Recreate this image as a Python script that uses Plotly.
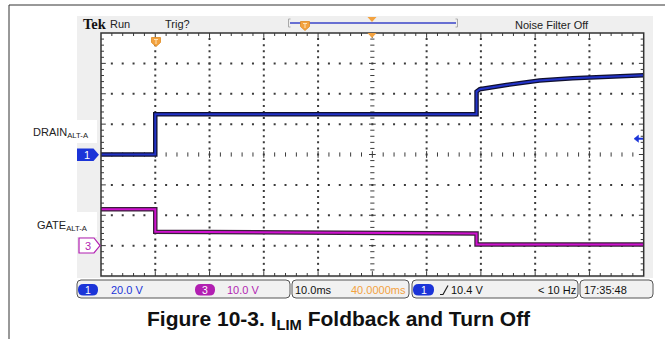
import plotly.graph_objects as go

W, H = 665, 339

# ---- acquisition data -------------------------------------------------------
# time in ms relative to trigger (10 ms/div, trigger 1 div from left edge)
T_MIN, T_MAX = -10.0, 90.0
# CH1 (drain): 20 V/div, ground at centre; CH3 (gate): 10 V/div, ground 3 div below centre
CH1_RANGE = [-80.0, 80.0]
CH3_RANGE = [-10.0, 70.0]

drain_t = [-10.0, 0.0, 0.0, 59.2, 59.2, 59.8, 64.7, 70.8, 76.9, 83.2, 90.0]
drain_v = [0.0, 0.0, 26.5, 26.5, 41.4, 43.0, 45.8, 48.7, 50.2, 51.3, 52.2]

gate_t = [-10.0, 0.0, 0.0, 30.0, 59.2, 59.2, 90.0]
gate_v = [12.0, 12.0, 4.6, 4.2, 4.0, 0.4, 0.4]

trig_level_v = 10.4

ch1_scale = "20.0 V"
ch3_scale = "10.0 V"
time_scale = "10.0ms"
delay_text = "40.0000ms"
trig_text = "10.4 V"
freq_text = "< 10 Hz"
clock_text = "17:35:48"

# ---- geometry helpers (pixel -> paper) --------------------------------------
PX0, PX1, PY0, PY1 = 101.0, 643.7, 33.0, 276.0


def X(px):
    return px / W


def Y(py):
    return 1 - py / H


def rrect(x0, y0, x1, y1, r):
    return (f"M {X(x0 + r)},{Y(y0)} L {X(x1 - r)},{Y(y0)} Q {X(x1)},{Y(y0)} {X(x1)},{Y(y0 + r)} "
            f"L {X(x1)},{Y(y1 - r)} Q {X(x1)},{Y(y1)} {X(x1 - r)},{Y(y1)} "
            f"L {X(x0 + r)},{Y(y1)} Q {X(x0)},{Y(y1)} {X(x0)},{Y(y1 - r)} "
            f"L {X(x0)},{Y(y0 + r)} Q {X(x0)},{Y(y0)} {X(x0 + r)},{Y(y0)} Z")


def poly(pts):
    s = "M " + " L ".join(f"{X(a)},{Y(b)}" for a, b in pts)
    return s + " Z"


FONT = "Liberation Sans, Arial, sans-serif"
BLUE = "#1b34d8"
MAGENTA = "#b21fb2"
ORANGE = "#f3a23f"
GRID = "#3a3a3a"

# ---- graticule -----------------------------------------------------------
MS_PER_PX = (T_MAX - T_MIN) / (PX1 - PX0)
V_PER_PX = (CH1_RANGE[1] - CH1_RANGE[0]) / (PY1 - PY0)
DIV_T, MIN_T = 10.0, 2.0
DIV_V, MIN_V = 20.0, 4.0

dot_x, dot_y = [], []
for i in range(1, 10):
    if i == 5:
        continue
    for j in range(1, 40):
        dot_x.append(T_MIN + i * DIV_T)
        dot_y.append(CH1_RANGE[0] + j * MIN_V)
for k in range(1, 8):
    if k == 4:
        continue
    for m in range(1, 50):
        dot_x.append(T_MIN + m * MIN_T)
        dot_y.append(CH1_RANGE[0] + k * DIV_V)

tick_x, tick_y = [], []
tl_t = 3 * MS_PER_PX
tl_v = 3 * V_PER_PX
t_c = T_MIN + 5 * DIV_T
for j in range(1, 40):
    yv = CH1_RANGE[0] + j * MIN_V
    big = 1.6 if j % 5 == 0 else 1.0
    # centre column cross ticks
    tick_x += [t_c - 0.7 * tl_t * big, t_c + 0.7 * tl_t * big, None]
    tick_y += [yv, yv, None]
    # left / right border ticks
    tick_x += [T_MIN, T_MIN + tl_t * big, None, T_MAX, T_MAX - tl_t * big, None]
    tick_y += [yv, yv, None, yv, yv, None]
for m in range(1, 50):
    xv = T_MIN + m * MIN_T
    big = 1.6 if m % 5 == 0 else 1.0
    tick_x += [xv, xv, None]
    tick_y += [-0.7 * tl_v * big, 0.7 * tl_v * big, None]
    tick_x += [xv, xv, None, xv, xv, None]
    tick_y += [CH1_RANGE[1], CH1_RANGE[1] - tl_v * big, None,
               CH1_RANGE[0], CH1_RANGE[0] + tl_v * big, None]

fig = go.Figure()
fig.add_trace(go.Scatter(x=dot_x, y=dot_y, mode="markers", hoverinfo="skip",
                         marker=dict(symbol="square", size=2, color=GRID, line=dict(width=0))))
fig.add_trace(go.Scatter(x=tick_x, y=tick_y, mode="lines", hoverinfo="skip",
                         line=dict(color=GRID, width=1)))

# ---- waveforms --------------------------------------------------------------
fig.add_trace(go.Scatter(x=gate_t, y=gate_v, yaxis="y2", mode="lines", hoverinfo="skip",
                         line=dict(color="#3a1f3a", width=4.5)))
fig.add_trace(go.Scatter(x=gate_t, y=gate_v, yaxis="y2", mode="lines", hoverinfo="skip",
                         line=dict(color="#d010d0", width=2)))
fig.add_trace(go.Scatter(x=drain_t, y=drain_v, mode="lines", hoverinfo="skip",
                         line=dict(color="#101030", width=4.5)))
fig.add_trace(go.Scatter(x=drain_t, y=drain_v, mode="lines", hoverinfo="skip",
                         line=dict(color="#2233c8", width=2)))

# ---- shapes -------------------------------------------------------------------
shapes = []
# outer frame (left and top edges)
shapes.append(dict(type="path", xref="paper", yref="paper", layer="below",
                   path=f"M {X(9)},{Y(339)} L {X(9)},{Y(5)} L {X(665)},{Y(5)}",
                   line=dict(color="#333", width=1)))
# instrument screen panel
shapes.append(dict(type="rect", xref="paper", yref="paper", layer="below",
                   x0=X(77), x1=X(653), y0=Y(278), y1=Y(16),
                   fillcolor="#efefef", line=dict(width=0)))
# white backing behind channel labels
for (a, b) in [(120, 143), (212, 237)]:
    shapes.append(dict(type="rect", xref="paper", yref="paper", layer="below",
                       x0=X(30), x1=X(97), y0=Y(b), y1=Y(a),
                       fillcolor="white", line=dict(width=0)))
# graticule area
shapes.append(dict(type="rect", xref="paper", yref="paper", layer="below",
                   x0=X(PX0), x1=X(PX1), y0=Y(PY1), y1=Y(PY0),
                   fillcolor="white", line=dict(width=0)))
shapes.append(dict(type="rect", xref="paper", yref="paper", layer="above",
                   x0=X(PX0), x1=X(PX1), y0=Y(PY1), y1=Y(PY0),
                   line=dict(color="#333", width=1.5)))

# record view bar
shapes.append(dict(type="line", xref="paper", yref="paper",
                   x0=X(290), x1=X(456), y0=Y(23), y1=Y(23), line=dict(color="#3a44c8", width=1.5)))
for xb, d in [(288.5, 1), (457.5, -1)]:
    shapes.append(dict(type="path", xref="paper", yref="paper",
                       path=f"M {X(xb + 2 * d)},{Y(19)} L {X(xb)},{Y(19)} L {X(xb)},{Y(27)} L {X(xb + 2 * d)},{Y(27)}",
                       line=dict(color="#aaa", width=1)))
# trigger position markers
for cx, cy in [(305, 26), (156, 42)]:
    shapes.append(dict(type="path", xref="paper", yref="paper",
                       path=poly([(cx - 4.5, cy - 4.5), (cx + 4.5, cy - 4.5), (cx + 4.5, cy + 0.5),
                                  (cx, cy + 4.5), (cx - 4.5, cy + 0.5)]),
                       fillcolor=ORANGE, line=dict(color="#e08a20", width=0.8)))
    shapes.append(dict(type="path", xref="paper", yref="paper",
                       path=f"M {X(cx - 2)},{Y(cy - 2.5)} L {X(cx + 2)},{Y(cy - 2.5)} M {X(cx)},{Y(cy - 2.5)} L {X(cx)},{Y(cy + 2)}",
                       line=dict(color="#fde3b8", width=1)))
# horizontal position (expansion point) markers
for cy in [17, 33]:
    shapes.append(dict(type="path", xref="paper", yref="paper",
                       path=poly([(367.5, cy), (376.5, cy), (372, cy + 5)]),
                       fillcolor=ORANGE, line=dict(width=0)))

# channel ground markers
shapes.append(dict(type="path", xref="paper", yref="paper",
                   path=poly([(77, 148.5), (93.5, 148.5), (99, 154.7), (93.5, 161), (77, 161)]),
                   fillcolor=BLUE, line=dict(width=0)))
shapes.append(dict(type="path", xref="paper", yref="paper",
                   path=poly([(79, 238), (94, 238), (100, 245.6), (94, 253), (79, 253)]),
                   fillcolor="white", line=dict(color=MAGENTA, width=1.2)))

# trigger level indicator on CH1 (left-pointing arrow at the right edge)
shapes.append(dict(type="line", xref="paper", yref="y",
                   x0=X(636), x1=X(643), y0=trig_level_v, y1=trig_level_v,
                   line=dict(color=BLUE, width=2)))
shapes.append(dict(type="path", xref="paper", yref="y",
                   path=(f"M {X(634)},{trig_level_v} L {X(638.5)},{trig_level_v + 3.6 * V_PER_PX} "
                         f"L {X(638.5)},{trig_level_v - 3.6 * V_PER_PX} Z"),
                   fillcolor=BLUE, line=dict(color=BLUE, width=0.5)))

# status bar boxes
for x0, x1 in [(77, 290), (292, 409), (412, 578), (580, 653)]:
    shapes.append(dict(type="path", xref="paper", yref="paper",
                       path=rrect(x0, 280, x1, 298, 4),
                       fillcolor="#f1f1f1", line=dict(color="#555", width=1)))
# channel pills
for x0, x1, col in [(78, 98, BLUE), (195, 215, MAGENTA), (413, 434, BLUE)]:
    shapes.append(dict(type="path", xref="paper", yref="paper",
                       path=rrect(x0, 284, x1, 295.5, 5.5),
                       fillcolor=col, line=dict(width=0)))
# rising edge glyph
shapes.append(dict(type="path", xref="paper", yref="paper",
                   path=f"M {X(440)},{Y(294.5)} L {X(443)},{Y(294.5)} L {X(448)},{Y(285.5)}",
                   line=dict(color="#222", width=1.2)))

# ---- text ------------------------------------------------------------------------
ann = []


def txt(x, y, s, size=11, color="#222", xanchor="left", family=FONT):
    ann.append(dict(x=X(x), y=Y(y), xref="paper", yref="paper", text=s, showarrow=False,
                    xanchor=xanchor, yanchor="middle", font=dict(family=family, size=size, color=color)))


txt(80.5, 23.5, "<b>Tek</b>", size=14.5, color="#111", family="Liberation Serif, Times New Roman, serif")
txt(107.5, 24.5, "Run")
txt(162.5, 24.5, "Trig?")
txt(512.5, 25, "Noise Filter Off")

txt(91, 133, "DRAIN<sub>ALT-A</sub>", size=11, xanchor="right")
txt(90, 226, "GATE<sub>ALT-A</sub>", size=11, xanchor="right")
txt(86.5, 154.7, "1", size=11, color="white", xanchor="center")
txt(88, 245.6, "3", size=11, color=MAGENTA, xanchor="center")

txt(88, 290, "1", size=10.5, color="white", xanchor="center")
txt(109, 290, ch1_scale, color=BLUE)
txt(205, 290, "3", size=10.5, color="white", xanchor="center")
txt(225.5, 290, ch3_scale, color=MAGENTA)
txt(293, 290, time_scale, color="#111")
txt(407.5, 290, delay_text, color=ORANGE, xanchor="right")
txt(423.5, 290, "1", size=10.5, color="white", xanchor="center")
txt(449, 290, trig_text, color="#111")
txt(577.5, 290, freq_text, color="#111", xanchor="right")
txt(581.5, 290, clock_text, color="#111")

ann.append(dict(x=X(339), y=Y(320), xref="paper", yref="paper", showarrow=False,
                text="<b>Figure 10-3. I<sub>LIM</sub> Foldback and Turn Off</b>",
                xanchor="center", yanchor="middle",
                font=dict(family=FONT, size=21, color="#111")))

fig.update_layout(
    width=W, height=H, autosize=False,
    margin=dict(l=0, r=0, t=0, b=0, pad=0),
    paper_bgcolor="white", plot_bgcolor="rgba(0,0,0,0)",
    showlegend=False,
    xaxis=dict(range=[T_MIN, T_MAX], domain=[X(PX0), X(PX1)], visible=False, fixedrange=True),
    yaxis=dict(range=CH1_RANGE, domain=[Y(PY1), Y(PY0)], visible=False, fixedrange=True),
    yaxis2=dict(range=CH3_RANGE, overlaying="y", visible=False, fixedrange=True),
    shapes=shapes, annotations=ann,
)

fig.write_html("out.html")
